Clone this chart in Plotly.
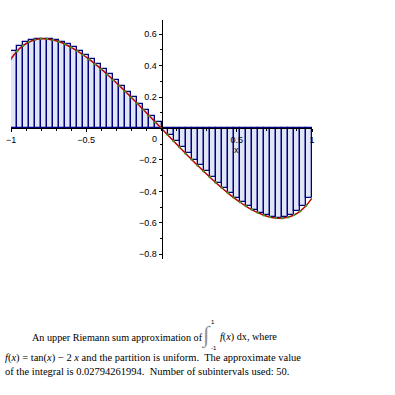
import plotly.graph_objects as go

# partition points of [-1, 1] (50 uniform subintervals)
x_nodes = [-1.00, -0.96, -0.92, -0.88, -0.84, -0.80, -0.76, -0.72, -0.68, -0.64,
           -0.60, -0.56, -0.52, -0.48, -0.44, -0.40, -0.36, -0.32, -0.28, -0.24,
           -0.20, -0.16, -0.12, -0.08, -0.04, 0.00, 0.04, 0.08, 0.12, 0.16,
           0.20, 0.24, 0.28, 0.32, 0.36, 0.40, 0.44, 0.48, 0.52, 0.56,
           0.60, 0.64, 0.68, 0.72, 0.76, 0.80, 0.84, 0.88, 0.92, 0.96, 1.00]

# f(x) = tan(x) - 2x at the partition points
f_nodes = [0.442592, 0.491650, 0.526737, 0.550336, 0.564368, 0.570361, 0.569548,
           0.562933, 0.551340, 0.535457, 0.515863, 0.493055, 0.467441, 0.439389,
           0.409219, 0.377207, 0.343598, 0.308610, 0.272446, 0.235283, 0.197290,
           0.158620, 0.119421, 0.079829, 0.039979, 0.0, -0.039979, -0.079829,
           -0.119421, -0.158620, -0.197290, -0.235283, -0.272446, -0.308610,
           -0.343598, -0.377207, -0.409219, -0.439389, -0.467441, -0.493055,
           -0.515863, -0.535457, -0.551340, -0.562933, -0.569548, -0.570361,
           -0.564368, -0.550336, -0.526737, -0.491650, -0.442592]

# upper sum bar heights
bar_heights = [0.491650, 0.526737, 0.550336, 0.564368, 0.570361, 0.570796,
               0.569548, 0.562933, 0.551340, 0.535457, 0.515863, 0.493055,
               0.467441, 0.439389, 0.409219, 0.377207, 0.343598, 0.308610,
               0.272446, 0.235283, 0.197290, 0.158620, 0.119421, 0.079829,
               0.039979, 0.0, -0.039979, -0.079829, -0.119421, -0.158620,
               -0.197290, -0.235283, -0.272446, -0.308610, -0.343598, -0.377207,
               -0.409219, -0.439389, -0.467441, -0.493055, -0.515863, -0.535457,
               -0.551340, -0.562933, -0.569548, -0.564368, -0.550336, -0.526737,
               -0.491650, -0.442592]

x_tickvals = [-1, -0.5, 0.5, 1]
x_ticktext = ["\u22121", "\u22120.5", "0.5", "1"]
y_tickvals = [-0.8, -0.6, -0.4, -0.2, 0.2, 0.4, 0.6]
y_ticktext = ["\u22120.8", "\u22120.6", "\u22120.4", "\u22120.2", "0.2", "0.4", "0.6"]

centers = [(a + b) / 2 for a, b in zip(x_nodes[:-1], x_nodes[1:])]
widths = [b - a for a, b in zip(x_nodes[:-1], x_nodes[1:])]

fig = go.Figure()
fig.add_trace(go.Bar(
    x=centers, y=bar_heights, width=widths,
    marker=dict(color="rgb(224,230,246)", line=dict(color="#000080", width=1.3)),
    hoverinfo="skip", showlegend=False,
))
fig.add_trace(go.Scatter(
    x=x_nodes, y=f_nodes, mode="lines", line=dict(color="#c00000", width=1.5, shape="spline"),
    showlegend=False,
))
fig.add_trace(go.Scatter(
    x=x_nodes, y=f_nodes, mode="markers", marker=dict(color="#3a9a20", size=2.5),
    showlegend=False,
))

ML, MR, MT, MB = 11, 82.5, 20, 136.3
Y0, Y1 = -0.83, 0.69

tickfont = dict(family="Liberation Sans, Arial, sans-serif", size=9, color="black")
fig.update_layout(
    width=395, height=395,
    margin=dict(l=ML, r=MR, t=MT, b=MB, autoexpand=False),
    paper_bgcolor="white", plot_bgcolor="white",
    bargap=0,
    xaxis=dict(range=[-1, 1], anchor="free", position=-Y0 / (Y1 - Y0), showline=True,
               automargin=False, ticklabeloverflow="allow",
               linecolor="black", linewidth=1, showgrid=False, zeroline=False,
               tickvals=x_tickvals, ticktext=x_ticktext, ticks="outside",
               ticklen=3, tickcolor="black", tickfont=tickfont,
               minor=dict(dtick=0.1, ticks="outside", ticklen=2, tickcolor="black")),
    yaxis=dict(range=[Y0, Y1], anchor="free", position=0.5, showline=True,
               automargin=False, ticklabeloverflow="allow",
               linecolor="black", linewidth=1, showgrid=False, zeroline=False,
               tickvals=y_tickvals, ticktext=y_ticktext, ticks="outside",
               ticklen=3, tickcolor="black", tickfont=tickfont,
               minor=dict(dtick=0.1, ticks="outside", ticklen=2, tickcolor="black")),
)

serif = dict(family="Liberation Serif, Times New Roman, serif", size=10.5, color="black")
serif1 = dict(family="Liberation Serif, Times New Roman, serif", size=10.2, color="black")
ann = []
ann.append(dict(x=0, y=0, xref="x", yref="y", text="0", showarrow=False,
                xanchor="right", yanchor="top", xshift=-3, yshift=-4, font=tickfont))
ann.append(dict(x=0.5, y=0, xref="x", yref="y", text="x", showarrow=False,
                xanchor="center", yanchor="top", yshift=-15, font=tickfont))

# caption positions given in picture pixels, converted to paper coords
def px(xp, yp):
    pw = 395 - ML - MR
    ph = 395 - MT - MB
    return (xp - ML) / pw, (395 - MB - yp) / ph

def add_text(xp, yp, text, font, xanchor="left"):
    x, y = px(xp, yp)
    ann.append(dict(x=x, y=y, xref="paper", yref="paper", text=text, showarrow=False,
                    xanchor=xanchor, yanchor="middle", font=font))

add_text(30, 337, "An upper Riemann sum approximation of", serif1)
add_text(206, 335, "\u222b", dict(family="Liberation Serif, serif", size=23, color="#909090"), "center")
add_text(213, 322, "1", dict(family="Liberation Sans, sans-serif", size=6, color="black"), "center")
add_text(214, 348, "-1", dict(family="Liberation Sans, sans-serif", size=6, color="black"), "center")
add_text(218, 337, "<i>f</i>(<i>x</i>) dx, where", serif1)
add_text(3, 358, "<i>f</i>(<i>x</i>) = tan(<i>x</i>) \u2212 2 <i>x</i> and the partition is uniform.  The approximate value", serif)
add_text(3, 371, "of the integral is 0.02794261994.  Number of subintervals used: 50.", serif)

fig.update_layout(annotations=ann)
fig.write_html("out.html", config={"displayModeBar": False},
               post_script="document.body.style.margin='0px';")
